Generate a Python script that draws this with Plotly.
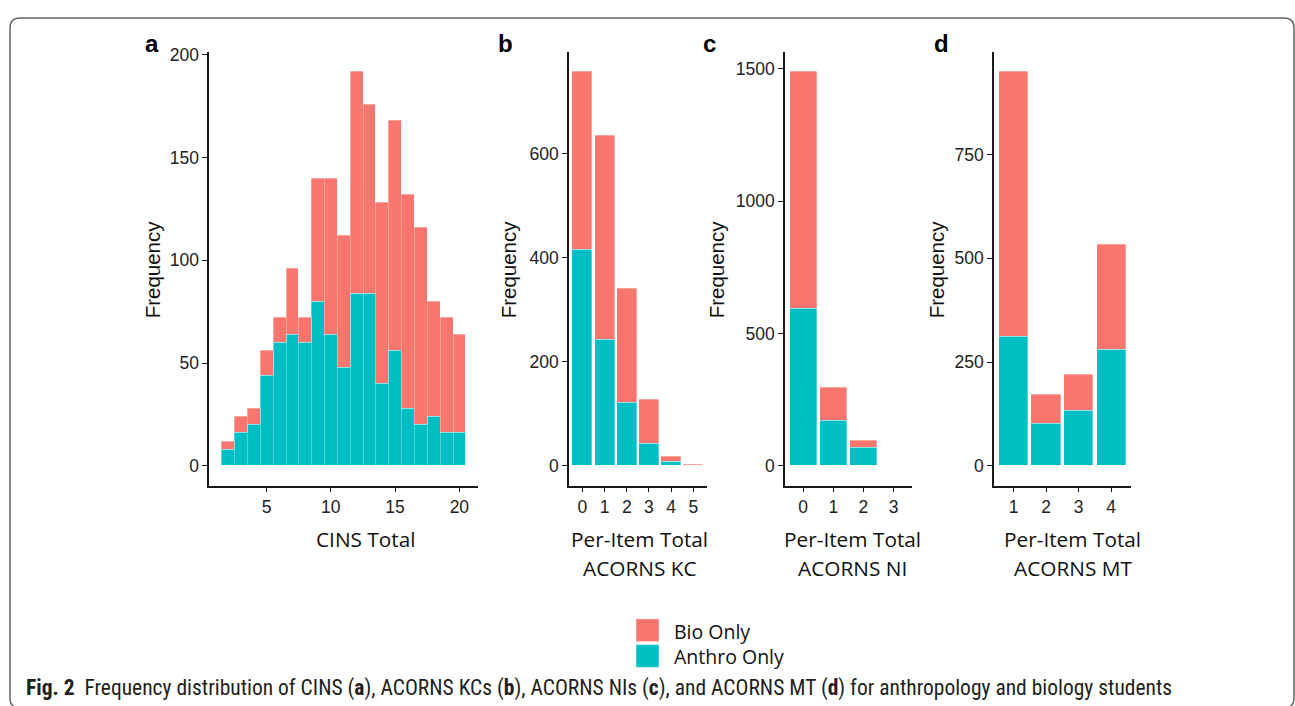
import plotly.graph_objects as go

# ---------------- data ----------------
cins_x = list(range(2, 21))
cins_anthro = [8, 16, 20, 44, 60, 64, 60, 80, 64, 48, 84, 84, 40, 56, 28, 20, 24, 16, 16]
cins_bio = [4, 8, 8, 12, 12, 32, 12, 60, 76, 64, 108, 92, 88, 112, 104, 96, 56, 56, 48]

kc_x = [0, 1, 2, 3, 4, 5]
kc_anthro = [415, 242, 122, 42, 8, 1]
kc_bio = [343, 392, 219, 86, 10, 1]

ni_x = [0, 1, 2, 3]
ni_anthro = [595, 169, 67, 0]
ni_bio = [895, 127, 28, 2]

mt_x = [1, 2, 3, 4]
mt_anthro = [312, 103, 134, 280]
mt_bio = [639, 68, 87, 253]

ticks_a = [0, 50, 100, 150, 200]
ticks_b = [0, 200, 400, 600]
ticks_c = [0, 500, 1000, 1500]
ticks_d = [0, 250, 500, 750]

x_titles = [["CINS Total"], ["Per-Item Total", "ACORNS KC"], ["Per-Item Total", "ACORNS NI"],
            ["Per-Item Total", "ACORNS MT"]]
panel_letters = ["a", "b", "c", "d"]
legend_labels = ["Bio Only", "Anthro Only"]

BIO = "#F8766D"
ANTHRO = "#00BFC4"
W, H = 1295, 706
NARROW = "Liberation Sans Narrow, Arial Narrow, Roboto Condensed, sans-serif"
HUMAN = "Open Sans, Noto Sans, sans-serif"
ARIAL = "Liberation Sans, Arial, sans-serif"


def px(x):
    return x / W


def py(y):
    return (H - y) / H


panels = [
    (cins_x, cins_anthro, cins_bio, 1.0, ticks_a, (209.3, 478.0), "x", "y"),
    (kc_x, kc_anthro, kc_bio, 0.9, ticks_b, (569.0, 706.7), "x2", "y2"),
    (ni_x, ni_anthro, ni_bio, 0.9, ticks_c, (785.0, 911.7), "x3", "y3"),
    (mt_x, mt_anthro, mt_bio, 0.9, ticks_d, (994.0, 1130.7), "x4", "y4"),
]

fig = go.Figure()
y_top, y_bot = 45.0, 483.3
ydom = [py(y_bot), py(y_top)]

layout_axes = {}
for i, (xs, an, bi, w, yt, (px0, px1), xa, ya) in enumerate(panels):
    first = i == 0
    fig.add_trace(go.Bar(x=xs, y=an, width=w, name="Anthro Only", marker_color=ANTHRO,
                         marker_line=dict(color="rgba(255,255,255,0.55)", width=0.6),
                         xaxis=xa, yaxis=ya, showlegend=False))
    fig.add_trace(go.Bar(x=xs, y=bi, width=w, name="Bio Only", marker_color=BIO,
                         marker_line=dict(color="rgba(255,255,255,0.55)", width=0.6),
                         xaxis=xa, yaxis=ya, showlegend=False))
    totals = [a + b for a, b in zip(an, bi)]
    mx = max(totals)
    n = len(xs)
    if first:
        xr = [min(xs) - 0.5 - 0.05 * n, max(xs) + 0.5 + 0.05 * n]
    else:
        xr = [min(xs) - 0.6, max(xs) + 0.6]
    suffix = "" if first else str(i + 1)
    common = dict(showline=True, linecolor="#1a1a1a", linewidth=1.7, ticks="outside",
                  ticklen=5, tickwidth=1.3, tickcolor="#1a1a1a", showgrid=False, zeroline=False,
                  tickfont=dict(family=ARIAL, size=17.5, color="#222"))
    layout_axes["xaxis" + suffix] = dict(domain=[px(px0), px(px1)], range=xr, anchor=ya,
                                         tickmode="array",
                                         tickvals=[5, 10, 15, 20] if first else xs,
                                         **common)
    layout_axes["yaxis" + suffix] = dict(domain=ydom, range=[-0.05 * mx, 1.05 * mx], anchor=xa,
                                         tickmode="array", tickvals=yt, **common)

fig.update_layout(**layout_axes)

annotations = []
ytitle_x = [152, 508, 716, 936]
letter_x = [152, 506, 709, 942]
xtitle_cx = [365.5, 639.5, 853, 1072.5]
for i in range(4):
    annotations.append(dict(text="Frequency", x=px(ytitle_x[i]), y=py(265), xref="paper", yref="paper",
                            showarrow=False, textangle=-90, xanchor="center", yanchor="middle",
                            font=dict(family=ARIAL, size=20.5, color="#111")))
    annotations.append(dict(text="<b>%s</b>" % panel_letters[i], x=px(letter_x[i]), y=py(37),
                            xref="paper", yref="paper", showarrow=False, xanchor="center", yanchor="middle",
                            font=dict(family=ARIAL, size=24, color="#000")))
    for k, line in enumerate(x_titles[i]):
        annotations.append(dict(text=line, x=px(xtitle_cx[i]), y=py(537.5 + 29 * k), xref="paper",
                                yref="paper", showarrow=False, xanchor="center", yanchor="middle",
                                font=dict(family=HUMAN, size=20.8, color="#111")))

# legend (ggplot-style square keys)
shapes = []
legend_cols = [BIO, ANTHRO]
legend_tops = [618, 644]
for col, top in zip(legend_cols, legend_tops):
    shapes.append(dict(type="rect", xref="paper", yref="paper", x0=px(636), x1=px(659),
                       y0=py(top + 23), y1=py(top), fillcolor=col,
                       line=dict(color="rgba(255,255,255,0.6)", width=0.8)))
annotations.append(dict(text="<br>".join(legend_labels), x=px(672), y=py(643.5), xref="paper",
                        yref="paper", showarrow=False, xanchor="left", yanchor="middle", align="left",
                        font=dict(family=HUMAN, size=19.5, color="#111")))

annotations.append(dict(
    text="<b>Fig. 2</b>&nbsp;&nbsp;Frequency distribution of CINS (<b>a</b>), ACORNS KCs (<b>b</b>), "
         "ACORNS NIs (<b>c</b>), and ACORNS MT (<b>d</b>) for anthropology and biology students",
    x=px(24), y=py(688), xref="paper", yref="paper", showarrow=False,
    xanchor="left", yanchor="middle", font=dict(family=NARROW, size=21.5, color="#231f20")))

# rounded frame (bottom edge runs just past the visible area)
l, t, r, b, rad = 10, 11, 1294, 708, 10
path = (f"M {px(l+rad)},{py(t)} L {px(r-rad)},{py(t)} Q {px(r)},{py(t)} {px(r)},{py(t+rad)} "
        f"L {px(r)},{py(b-rad)} Q {px(r)},{py(b)} {px(r-rad)},{py(b)} "
        f"L {px(l+rad)},{py(b)} Q {px(l)},{py(b)} {px(l)},{py(b-rad)} "
        f"L {px(l)},{py(t+rad)} Q {px(l)},{py(t)} {px(l+rad)},{py(t)} Z")
shapes.append(dict(type="path", path=path, xref="paper", yref="paper",
                   line=dict(color="#666", width=1.5), fillcolor="rgba(0,0,0,0)", layer="below"))

fig.update_layout(
    width=W, height=H, margin=dict(l=0, r=0, t=0, b=0),
    paper_bgcolor="white", plot_bgcolor="white",
    barmode="stack", bargap=0,
    annotations=annotations,
    shapes=shapes,
    showlegend=False,
)

fig.write_html("out.html")
